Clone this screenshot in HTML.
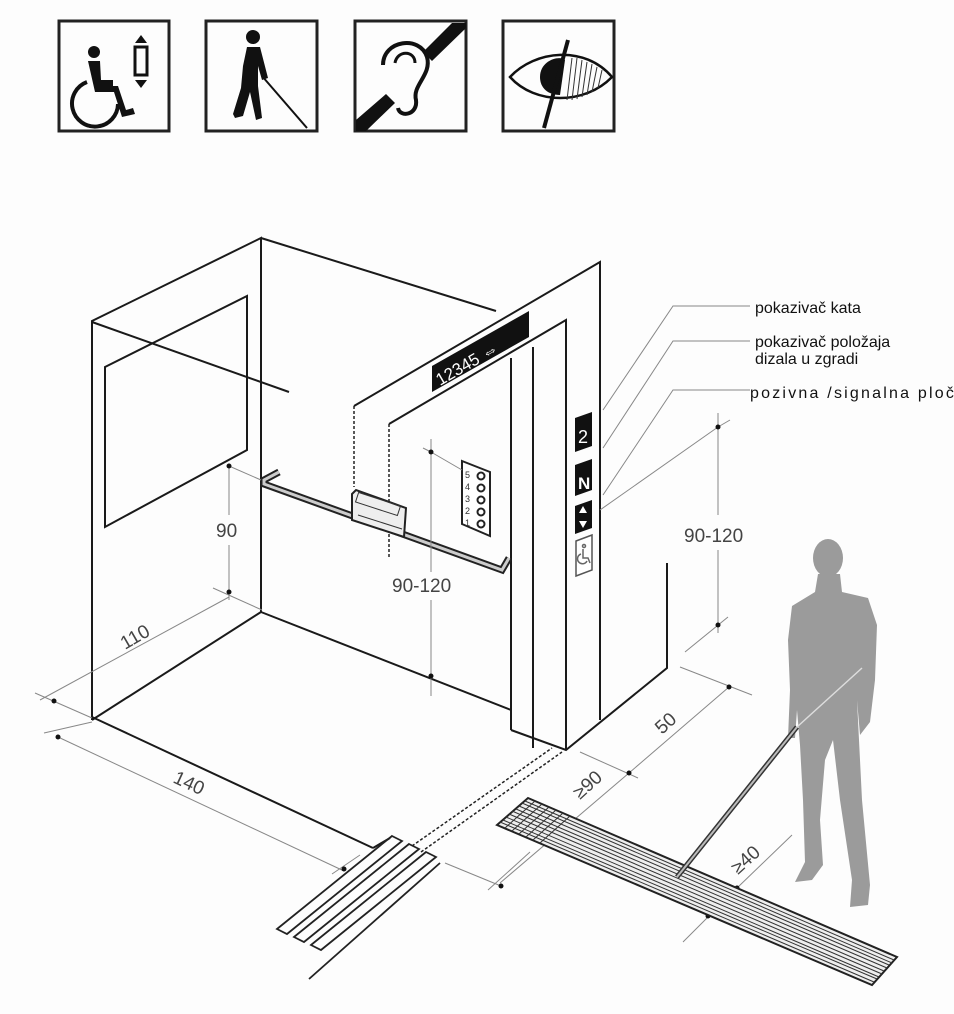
<!DOCTYPE html>
<html><head><meta charset="utf-8"><style>
html,body{margin:0;padding:0;background:#fff}
svg{display:block}
text{font-family:"Liberation Sans",sans-serif}
</style></head><body>
<svg width="954" height="1014" viewBox="0 0 954 1014" xmlns="http://www.w3.org/2000/svg">
<rect width="954" height="1014" fill="#fdfdfd"/>
<g fill="none" stroke="#222" stroke-width="3">
<rect x="59" y="21" width="110" height="110"/>
<rect x="206" y="21" width="111" height="110"/>
<rect x="355" y="21" width="111" height="110"/>
<rect x="503" y="21" width="111" height="110"/>
</g>
<g fill="#111">
<circle cx="94" cy="52" r="6"/>
<path d="M88,61 L100,61 L101,80 L113,80 L113,86 L118,86 L126,110 L133,108 L135,114 L122,117 L114,92 L95,92 Z"/>
<polygon points="141,35 135,43 147,43"/><polygon points="141,88 135,80 147,80"/>
</g>
<path d="M87,82 A23,23 0 1 0 118,104" fill="none" stroke="#111" stroke-width="4"/>
<rect x="135" y="47" width="12" height="28" fill="none" stroke="#111" stroke-width="3"/>
<g fill="#111">
<circle cx="253" cy="37" r="7"/>
<path d="M247,47 L260,47 L268,78 L262,80 L258,66 L258,86 L262,118 L256,120 L250,92 L243,116 L235,118 L233,114 L241,88 L243,66 Z"/>
</g>
<line x1="262" y1="76" x2="307" y2="128" stroke="#111" stroke-width="2"/>
<path d="M383,65 C383,40 420,35 427,57 C432,75 412,85 416,100 C418,115 400,118 398,108" fill="none" stroke="#111" stroke-width="4"/>
<path d="M395,63 C397,50 415,50 415,63" fill="none" stroke="#111" stroke-width="3"/>
<polygon points="356,120 356,131 366,131 395,103 386,94" fill="#111"/>
<polygon points="466,23 452,23 423,52 432,61 466,28" fill="#111"/>
<path d="M510,77 C535,50 585,45 612,77 C585,105 535,105 510,77 Z" fill="none" stroke="#111" stroke-width="2.5"/>
<path d="M540,77 C540,60 560,55 565,60 L560,95 C548,95 540,88 540,77 Z" fill="#111"/>
<g stroke="#333" stroke-width="1"><line x1="572" y1="58" x2="567" y2="100"/><line x1="577" y1="58" x2="572" y2="100"/><line x1="582" y1="60" x2="577" y2="99"/><line x1="587" y1="62" x2="582" y2="97"/><line x1="592" y1="64" x2="587" y2="95"/><line x1="597" y1="67" x2="592" y2="92"/><line x1="602" y1="70" x2="598" y2="88"/></g>
<line x1="568" y1="40" x2="544" y2="128" stroke="#111" stroke-width="4"/>

<g fill="none" stroke="#1a1a1a" stroke-width="2">
<polyline points="92,720 92,321 261,238 261,612"/>
<line x1="261" y1="238" x2="496" y2="311"/>
<line x1="92" y1="322" x2="289" y2="392"/>
<polygon points="105,367 247,296 247,450 105,527"/>
<line x1="261" y1="612" x2="92" y2="720"/>
<line x1="261" y1="612" x2="511" y2="710"/>
<line x1="92" y1="717" x2="373" y2="848"/>
<line x1="373" y1="848" x2="390" y2="838"/>
<polyline points="354,406 600,262 600,720"/>
<polyline points="389,424 566,320 566,750"/>
<line x1="511" y1="358" x2="511" y2="730"/>
<line x1="533" y1="347" x2="533" y2="748"/>
<polyline points="511,730 566,750 667,668 667,563"/>
</g>
<g stroke="#222" stroke-width="1.5" stroke-dasharray="3,2">
<line x1="354" y1="406" x2="354" y2="487"/>
<line x1="389" y1="424" x2="389" y2="558"/>
<line x1="412" y1="846" x2="552" y2="748"/>
<line x1="421" y1="852" x2="562" y2="752"/>
</g>
<polygon points="432,366 432,392 529,337 529,311" fill="#111"/>
<text x="0" y="0" transform="translate(440,386) rotate(-30)" font-size="17" fill="#fff">12345 ⇔</text>
<polyline points="279,472 264,480 264,484 502,570 509,558" fill="none" stroke="#222" stroke-width="7"/>
<polyline points="279,472 264,480 264,484 502,570 509,558" fill="none" stroke="#ccc" stroke-width="3"/>
<polygon points="352,494 356,490 406,508 404,537 352,520" fill="#eee" stroke="#222" stroke-width="2"/>
<g fill="none" stroke="#333" stroke-width="1"><rect x="356" y="499" width="44" height="10" transform="rotate(18 378 504)"/><line x1="358" y1="515" x2="402" y2="529"/></g>
<polygon points="462,461 490,472 490,536 462,524" fill="#fff" stroke="#222" stroke-width="2"/>
<g font-size="9" fill="#333"><text x="465" y="478">5</text><text x="465" y="490">4</text><text x="465" y="502">3</text><text x="465" y="514">2</text><text x="465" y="526">1</text></g>
<g fill="none" stroke="#222" stroke-width="2"><circle cx="481" cy="476" r="3.5"/><circle cx="481" cy="488" r="3.5"/><circle cx="481" cy="500" r="3.5"/><circle cx="481" cy="512" r="3.5"/><circle cx="481" cy="524" r="3.5"/></g>
<polygon points="575,418 592,412 592,446 575,452" fill="#111"/><text x="578" y="443" font-size="18" fill="#fff">2</text>
<polygon points="575,465 592,459 592,490 575,496" fill="#111"/><text x="578" y="489" font-size="17" fill="#fff" font-weight="bold">N</text>
<polygon points="575,506 592,500 592,528 575,534" fill="#111"/><path d="M583,506 l-4,7 h8 z M583,528 l-4,-7 h8 z" fill="#fff"/>
<polygon points="576,541 592,535 592,570 576,576" fill="#fff" stroke="#555" stroke-width="1.5"/>
<g fill="none" stroke="#666" stroke-width="1.5"><circle cx="584" cy="546" r="1.5"/><path d="M583,549 v9 h5 l2,5"/><path d="M581,554 a5,5 0 1 0 6,7"/></g>
<g fill="none" stroke="#888" stroke-width="1">
<polyline points="750,306 673,306 603,410"/>
<polyline points="750,341 673,341 603,448"/>
<polyline points="750,390 673,390 603,495"/>
<line x1="718" y1="427" x2="600" y2="510"/>
<line x1="718" y1="413" x2="718" y2="515"/>
<line x1="718" y1="550" x2="718" y2="633"/>
<line x1="718" y1="427" x2="730" y2="420"/>
<line x1="685" y1="652" x2="728" y2="617"/>
<line x1="680" y1="667" x2="752" y2="695"/>
<line x1="729" y1="687" x2="629" y2="773"/>
<line x1="580" y1="752" x2="638" y2="778"/>
<line x1="629" y1="773" x2="500" y2="883"/>
<line x1="683" y1="942" x2="720" y2="905"/>
<line x1="737" y1="888" x2="792" y2="835"/>
<line x1="229" y1="466" x2="229" y2="515"/>
<line x1="229" y1="545" x2="229" y2="600"/>
<line x1="229" y1="466" x2="261" y2="480"/>
<line x1="213" y1="588" x2="262" y2="610"/>
<line x1="229" y1="597" x2="40" y2="700"/>
<line x1="35" y1="693" x2="92" y2="718"/>
<line x1="44" y1="733" x2="92" y2="722"/>
<line x1="58" y1="737" x2="344" y2="871"/>
<line x1="431" y1="439" x2="431" y2="572"/>
<line x1="431" y1="600" x2="431" y2="696"/>
<line x1="423" y1="448" x2="431" y2="452"/>
<line x1="431" y1="452" x2="462" y2="470"/>
<line x1="445" y1="863" x2="501" y2="886"/>
<line x1="488" y1="890" x2="530" y2="852"/>
<line x1="332" y1="874" x2="360" y2="855"/>
</g>
<g fill="#111"><circle cx="229" cy="466" r="2.5"/><circle cx="229" cy="592" r="2.5"/><circle cx="54" cy="701" r="2.5"/><circle cx="58" cy="737" r="2.5"/><circle cx="344" cy="869" r="2.5"/><circle cx="501" cy="886" r="2.5"/><circle cx="431" cy="452" r="2.5"/><circle cx="431" cy="676" r="2.5"/><circle cx="718" cy="427" r="2.5"/><circle cx="718" cy="625" r="2.5"/><circle cx="729" cy="687" r="2.5"/><circle cx="629" cy="773" r="2.5"/><circle cx="737" cy="888" r="2.5"/><circle cx="708" cy="916" r="2.5"/></g>
<g font-size="16" fill="#111">
<text x="755" y="313">pokazivač kata</text>
<text x="755" y="347">pokazivač položaja</text>
<text x="755" y="364">dizala u zgradi</text>
<text x="750" y="398" textLength="215" lengthAdjust="spacing">pozivna /signalna ploča</text>
</g>
<g font-size="19" fill="#444">
<text x="216" y="537">90</text>
<text x="392" y="592">90-120</text>
<text x="684" y="542">90-120</text>
<text transform="translate(125,650) rotate(-30)">110</text>
<text transform="translate(172,782) rotate(25)">140</text>
<text transform="translate(662,735) rotate(-42)">50</text>
<text transform="translate(580,800) rotate(-42)">≥90</text>
<text transform="translate(738,875) rotate(-42)">≥40</text>
</g>
<g fill="none" stroke="#222" stroke-width="1.8">
<polygon points="392,836 402,841 287,934 277,929"/>
<polygon points="409,844 419,849 304,942 294,937"/>
<polygon points="426,852 436,857 321,950 311,945"/>
<line x1="440" y1="863" x2="309" y2="979"/>
</g>
<polygon points="497,825 528,798 897,957 872,985" fill="#eee" stroke="#222" stroke-width="2"/>
<g stroke="#333" stroke-width="1">
<line x1="500" y1="822" x2="874" y2="982"/><line x1="503" y1="820" x2="877" y2="979"/><line x1="506" y1="817" x2="879" y2="977"/><line x1="509" y1="814" x2="882" y2="974"/><line x1="512" y1="811" x2="884" y2="971"/><line x1="516" y1="809" x2="887" y2="968"/><line x1="519" y1="806" x2="889" y2="965"/><line x1="522" y1="803" x2="892" y2="963"/><line x1="525" y1="801" x2="894" y2="960"/>
<line x1="505" y1="828" x2="535" y2="801"/><line x1="512" y1="831" x2="542" y2="804"/><line x1="519" y1="834" x2="549" y2="807"/><line x1="526" y1="837" x2="556" y2="810"/><line x1="533" y1="840" x2="563" y2="813"/><line x1="540" y1="843" x2="570" y2="816"/>
</g>
<g fill="#9b9b9b">
<ellipse cx="828" cy="558" rx="15" ry="19"/>
<path d="M818,574 L840,574 L842,592 L868,598 L877,625 L875,680 L870,722 L860,735 L857,700 L860,760 L862,800 L870,885 L868,905 L850,907 L852,880 L840,800 L833,740 L825,760 L820,820 L823,865 L812,880 L795,882 L805,862 L803,800 L800,745 L797,710 L795,738 L788,738 L790,690 L788,640 L792,606 L815,592 Z"/>
</g>
<line x1="677" y1="877" x2="797" y2="727" stroke="#333" stroke-width="5"/>
<line x1="677" y1="877" x2="797" y2="727" stroke="#bbb" stroke-width="2"/>
<path d="M797,727 L862,668" stroke="#ddd" stroke-width="1.5" fill="none"/>
</svg>
</body></html>
